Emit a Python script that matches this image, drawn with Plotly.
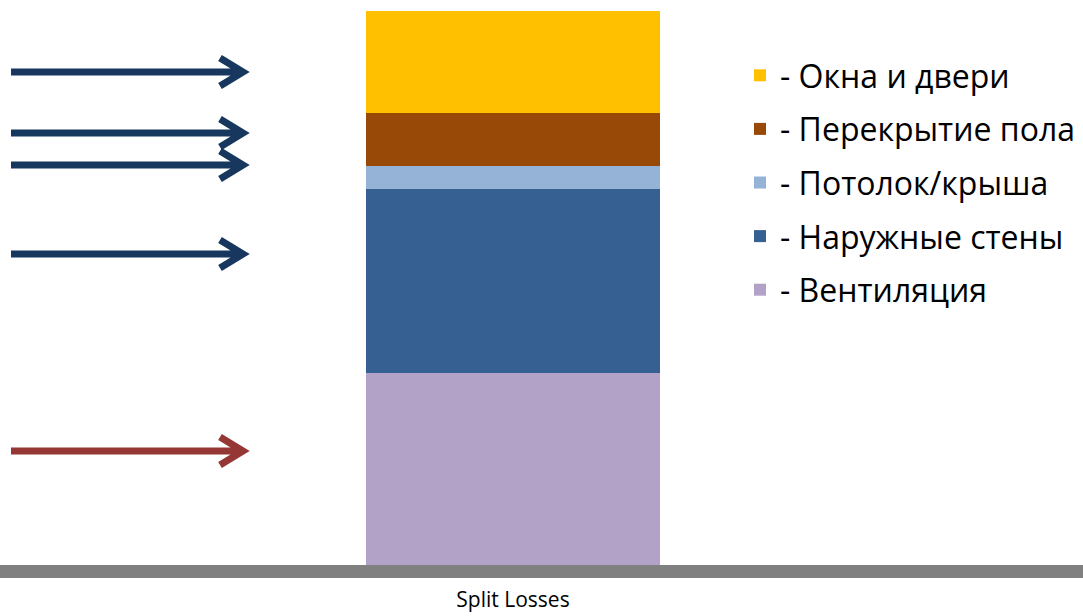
import plotly.graph_objects as go

# ---- data ----
categories = ["Split Losses"]
series_names = ["- Вентиляция", "- Наружные стены", "- Потолок/крыша",
                "- Перекрытие пола", "- Окна и двери"]
series_values = [[34.7], [33.2], [4.2], [9.6], [18.4]]
series_colors = ["#B3A2C7", "#376092", "#95B3D7", "#984807", "#FFC000"]

# decorative arrows (pixel rows in the 1083x616 canvas)
arrow_rows = [72, 133, 165, 254, 451]
arrow_colors = ["#17375E", "#17375E", "#17375E", "#17375E", "#953735"]

W, H = 1083, 616
T, B = 11, 51
PH = H - T - B

fig = go.Figure()
n = len(series_names)
for i, (name, vals, col) in enumerate(zip(series_names, series_values, series_colors)):
    fig.add_trace(go.Bar(x=categories, y=vals, name=name, marker_color=col,
                         marker_line_width=0, width=1, legendgroup=f"g{i}",
                         legendrank=n - i))

span = 294 / W
S = 1 / span
r0 = -(513 / W) * S
r1 = S + r0

def px_x(px):
    return px / W

def px_y(py):
    return (H - B - py) / PH

shapes = []
for py, col in zip(arrow_rows, arrow_colors):
    y = px_y(py)
    dy = 14 / PH
    path = (f"M{px_x(11)},{y} L{px_x(242)},{y} "
            f"M{px_x(220)},{y + dy} L{px_x(243)},{y} L{px_x(220)},{y - dy}")
    shapes.append(dict(type="path", path=path, xref="paper", yref="paper",
                       line=dict(color=col, width=7)))

shapes.append(dict(type="rect", xref="paper", yref="paper", x0=0, x1=1,
                   y0=-13 / PH, y1=0, fillcolor="#808080", line_width=0))

fig.update_layout(
    width=W, height=H,
    barmode="stack",
    bargap=0,
    margin=dict(l=0, r=0, t=T, b=B, autoexpand=False),
    paper_bgcolor="white", plot_bgcolor="white",
    font=dict(family="Open Sans", color="#000000"),
    xaxis=dict(range=[r0, r1], showgrid=False, zeroline=False, showline=False,
               ticks="", tickfont=dict(size=21, color="#000000"),
               ticklabelstandoff=20, automargin=False),
    yaxis=dict(range=[0, 100.1], visible=False, automargin=False),
    showlegend=True,
    legend=dict(x=740 / W, xanchor="left", y=px_y(48), yanchor="top",
                traceorder="grouped", tracegroupgap=9,
                font=dict(size=32, color="#000000"),
                bgcolor="rgba(0,0,0,0)", borderwidth=0),
    shapes=shapes,
)

fig.write_html("out.html")
